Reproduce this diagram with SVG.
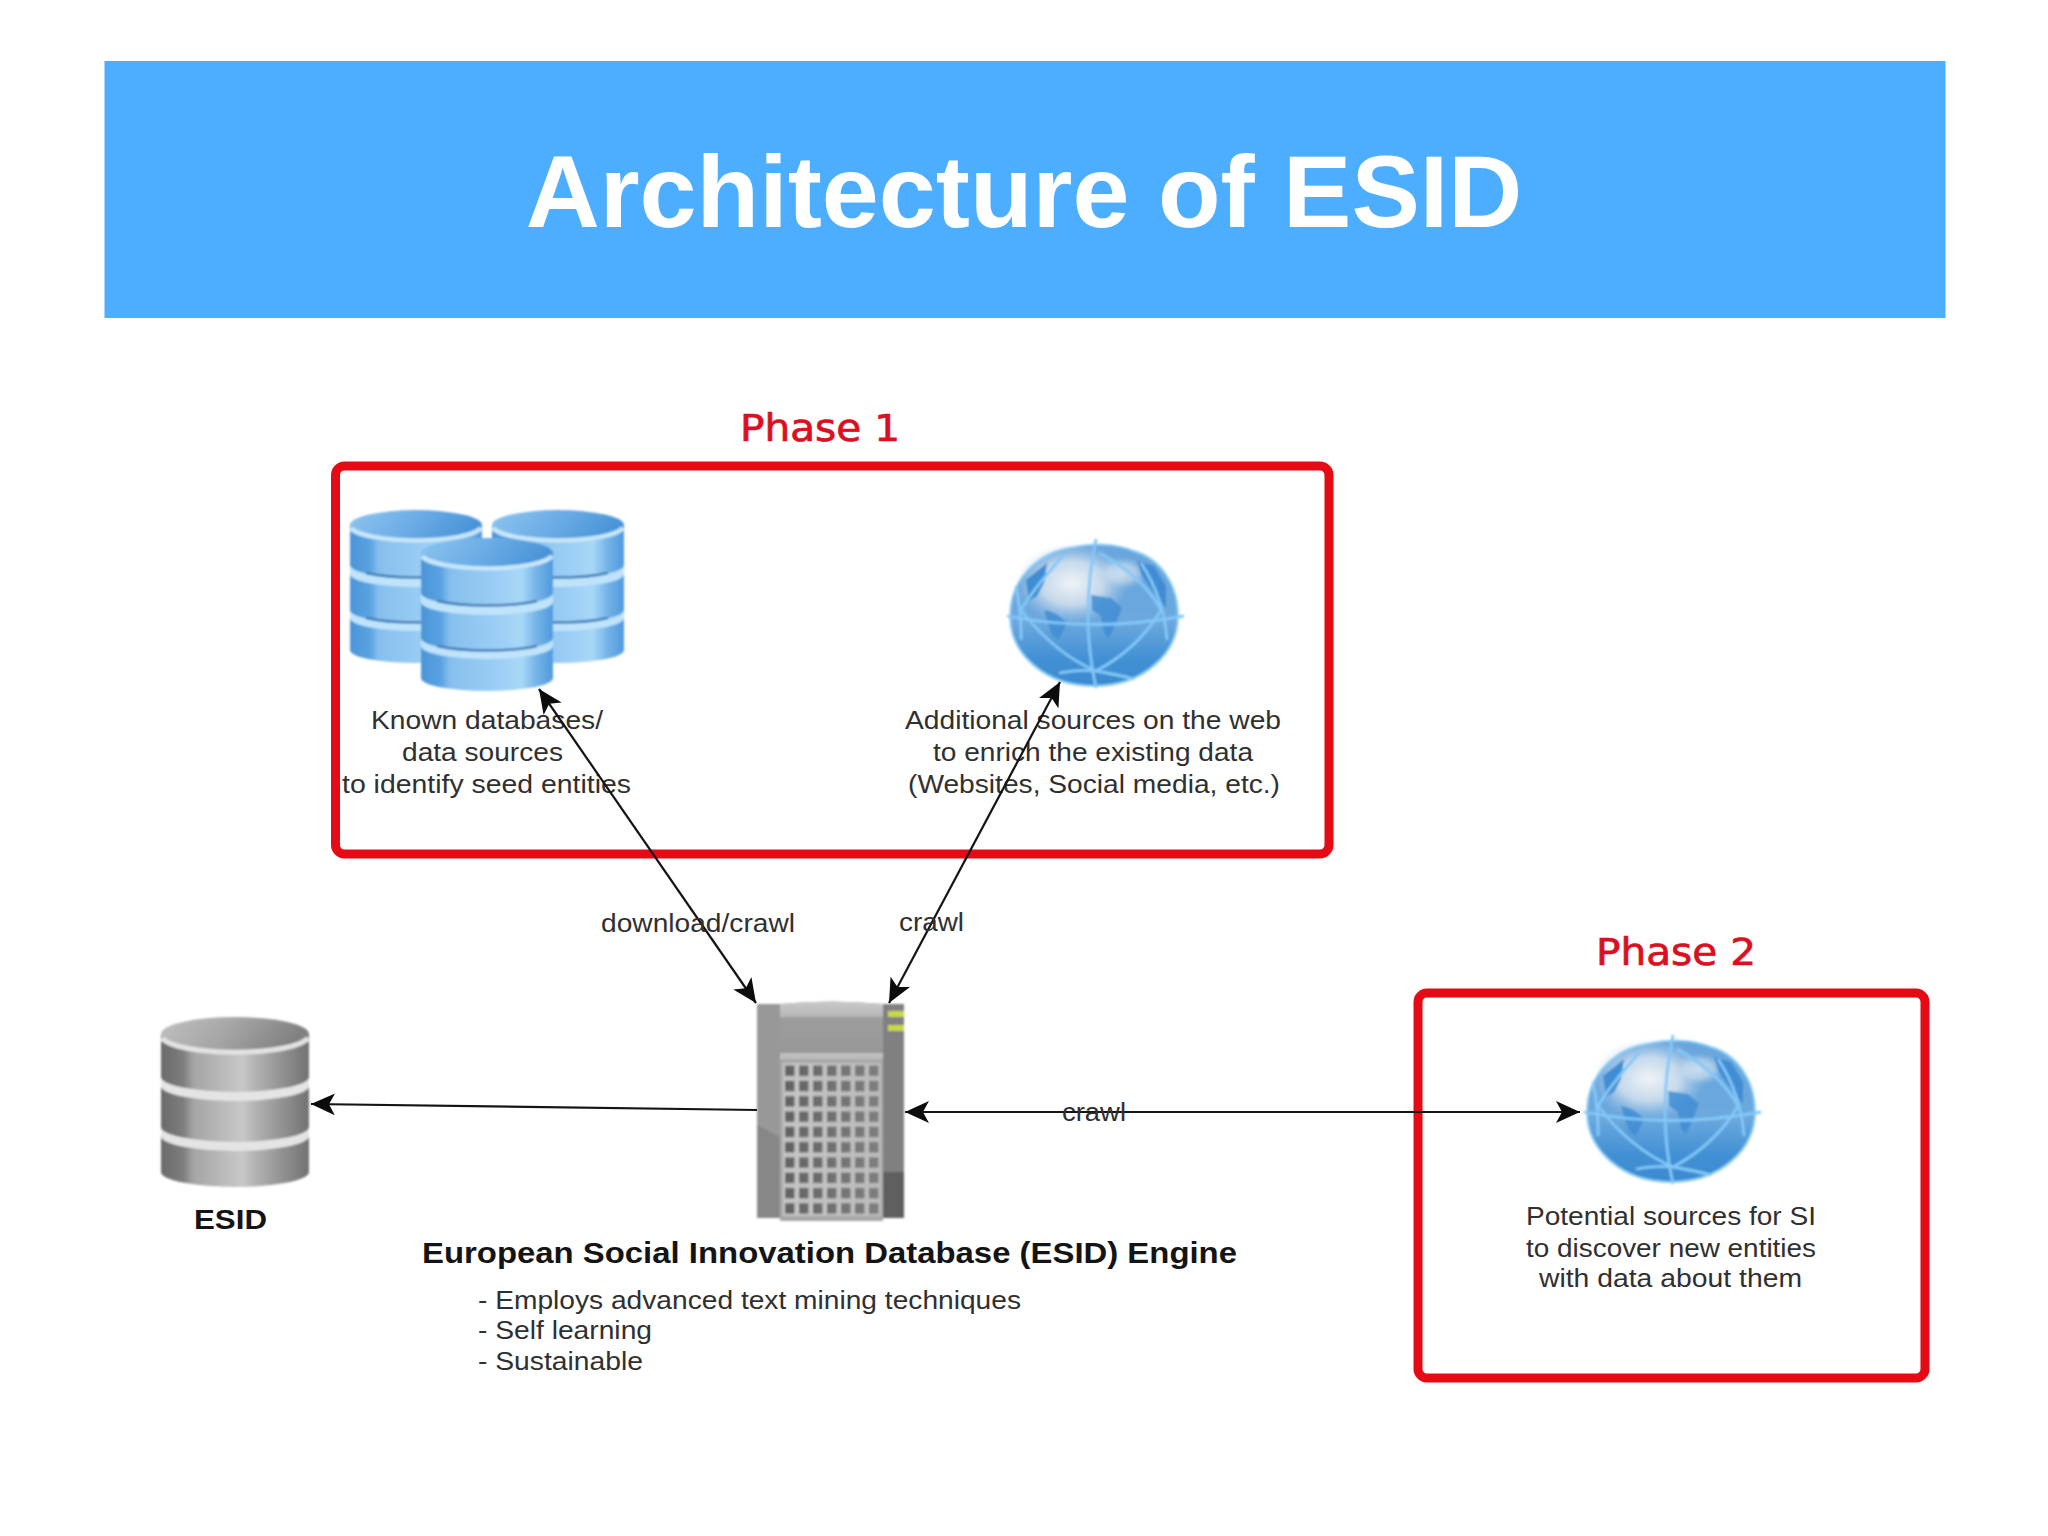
<svg xmlns="http://www.w3.org/2000/svg" width="2048" height="1536" viewBox="0 0 2048 1536">
<style>
text{font-family:"Liberation Sans",Arial,sans-serif;fill:#303030}
.lab{font-size:26px}
.b{font-weight:bold;fill:#141414}
.ph{font-family:"DejaVu Sans",Verdana,sans-serif;font-size:37px;fill:#dc0f22;stroke:#dc0f22;stroke-width:.7}
.box{fill:none;stroke:#e60a14;stroke-width:9}
.con{fill:none;stroke:#141414;stroke-width:2.2}
.grid{fill:none;stroke:#82c8f8;stroke-width:2.8}
.land{fill:#3f8dd3}
.title{font-size:102.500px;font-weight:bold;fill:#fff}
.soft{filter:url(#soft)}
</style>
<defs>
<filter id="soft" x="-5%" y="-5%" width="110%" height="110%"><feGaussianBlur stdDeviation="1"/></filter>
<marker id="ah" viewBox="0 0 24 22" refX="24" refY="11" markerWidth="24" markerHeight="22" markerUnits="userSpaceOnUse" orient="auto-start-reverse"><path d="M24,11 L0,0 L6,11 L0,22Z" fill="#0c0c0c"/></marker>
<linearGradient id="bb" x1="0" x2="1" y1="0" y2="0"><stop offset="0" stop-color="#4a95d8"/><stop offset=".15" stop-color="#5aa2e0"/><stop offset=".22" stop-color="#86bfee"/><stop offset=".62" stop-color="#9ed0f5"/><stop offset=".76" stop-color="#a8d8f8"/><stop offset=".88" stop-color="#73b2e6"/><stop offset="1" stop-color="#4f9ade"/></linearGradient>
<linearGradient id="bt" x1="0" x2="1" y1="0" y2=".2"><stop offset="0" stop-color="#8cc4ee"/><stop offset=".5" stop-color="#6eaee6"/><stop offset="1" stop-color="#4a94d8"/></linearGradient>
<linearGradient id="gb" x1="0" x2="1" y1="0" y2="0"><stop offset="0" stop-color="#6a6a6a"/><stop offset=".15" stop-color="#7e7e7e"/><stop offset=".22" stop-color="#a5a5a5"/><stop offset=".55" stop-color="#c8c8c8"/><stop offset=".62" stop-color="#b6b6b6"/><stop offset=".85" stop-color="#8c8c8c"/><stop offset="1" stop-color="#727272"/></linearGradient>
<linearGradient id="gt" x1="0" x2="1" y1="0" y2=".2"><stop offset="0" stop-color="#c0c0c0"/><stop offset=".5" stop-color="#a6a6a6"/><stop offset="1" stop-color="#808080"/></linearGradient>
<linearGradient id="gl" x1="0" x2="0" y1="0" y2="1"><stop offset="0" stop-color="#6aa6dc"/><stop offset=".55" stop-color="#6ca8de"/><stop offset=".8" stop-color="#4391d4"/><stop offset="1" stop-color="#3a89cf"/></linearGradient>
<radialGradient id="hi"><stop offset="0" stop-color="#f0f3f6"/><stop offset=".55" stop-color="#d5e2ee" stop-opacity=".85"/><stop offset="1" stop-color="#b0cde8" stop-opacity="0"/></radialGradient>
<pattern id="cells" x="783" y="1063" width="14" height="15.300" patternUnits="userSpaceOnUse"><rect width="14" height="15.300" fill="#c6c6c6"/><rect x="2" y="2.500" width="9.500" height="10.500" fill="#626262"/></pattern>
<linearGradient id="fade" x1="0" x2="1" y1="0" y2="0"><stop offset="0" stop-color="#aaa" stop-opacity="0"/><stop offset="1" stop-color="#aaa" stop-opacity=".4"/></linearGradient>
<linearGradient id="srvTop" x1="0" x2="0" y1="0" y2="1"><stop offset="0" stop-color="#c8c8c8"/><stop offset=".28" stop-color="#b8b8b8"/><stop offset=".32" stop-color="#9c9c9c"/><stop offset="1" stop-color="#989898"/></linearGradient>
<g id="dbBlue">
<path d="M0,15 V140 A66,13 0 0 0 132,140 V15Z" fill="url(#bb)"/>
<path d="M0,100 A66,13 0 0 0 132,100 V108 A66,13 0 0 1 0,108Z" fill="#bfe3fa"/>
<path d="M16,108 A66,13 0 0 0 116,108" fill="none" stroke="#3d7cb6" stroke-width="2.500"/>
<path d="M0,55 A66,13 0 0 0 132,55 V64 A66,13 0 0 1 0,64Z" fill="#bfe3fa"/>
<path d="M16,63 A66,13 0 0 0 116,63" fill="none" stroke="#3d7cb6" stroke-width="2.500"/>
<ellipse cx="66" cy="15" rx="66" ry="15" fill="url(#bt)"/>
<path d="M1,18 A66,15 0 0 0 131,18" fill="none" stroke="#c6e6fb" stroke-width="4.500"/>
</g>
<g id="dbGrey">
<path d="M0,17 V155 A74,15 0 0 0 148,155 V17Z" fill="url(#gb)"/>
<path d="M0,110 A74,15 0 0 0 148,110 V119 A74,15 0 0 1 0,119Z" fill="#e4e4e4"/>
<path d="M0,60 A74,15 0 0 0 148,60 V69 A74,15 0 0 1 0,69Z" fill="#e4e4e4"/>
<ellipse cx="74" cy="17" rx="74" ry="17" fill="url(#gt)"/>
<path d="M1,21 A74,17 0 0 0 147,21" fill="none" stroke="#e2e2e2" stroke-width="5"/>
</g>
<g id="globe">
<path id="orb" d="M-84,3 C-84,-35 -55,-60 -25,-65 C0,-70 20,-70 40,-62 C65,-55 84,-30 84,3 C84,40 50,73 0,73 C-50,73 -84,40 -84,3Z" fill="url(#gl)"/>
<ellipse cx="-22" cy="-30" rx="56" ry="40" fill="url(#hi)"/>
<ellipse cx="28" cy="-40" rx="26" ry="16" fill="url(#hi)" opacity=".7"/>
<path class="land" d="M-68,-33 L-47,-50 L-50,-30 L-57,-17 L-65,-12Z"/>
<path class="land" d="M43,-52 L60,-47 L72,-27 L72,-5 L60,-20 L48,-37Z"/>
<path class="land" d="M-50,-3 Q-38,-2 -27,10 L-35,27 L-42,22 L-47,7Z" opacity=".85"/>
<path class="land" d="M-3,-18 L17,-15 L28,-5 L22,10 L15,25 L10,20 L7,3 L-2,-3Z" opacity=".85"/>
<path d="M-84,3 C-84,-35 -55,-60 -25,-65 C0,-70 20,-70 40,-62 C65,-55 84,-30 84,3 C84,40 50,73 0,73 C-50,73 -84,40 -84,3Z" fill="none" stroke="#90d0f8" stroke-width="2"/>
<path class="grid" d="M-87,3 Q-1,20 90,3 M2,-74 Q-14,3 2,75 M-30,-58 Q-60,-25 -73,-3 Q-40,40 2,58 M6,-60 Q50,-35 67,-3 Q45,35 2,58 M-78,-27 Q-72,5 -73,27 M47,-50 Q70,-15 73,27 M-35,60 Q-15,56 2,58 Q25,62 40,66"/>
</g>
</defs>
<rect width="2048" height="1536" fill="#fff"/>
<g id="header"><rect x="104.500" y="61" width="1841" height="257" fill="#4dadff"/><text class="title" x="1024" y="227" text-anchor="middle">Architecture of ESID</text></g>
<g id="phase1"><text class="ph" x="740" y="441" textLength="160" lengthAdjust="spacingAndGlyphs">Phase 1</text><rect class="box" x="335.500" y="466" width="993.500" height="388" rx="9"/></g>
<g id="phase2"><text class="ph" x="1596" y="965" textLength="160" lengthAdjust="spacingAndGlyphs">Phase 2</text><rect class="box" x="1418" y="993" width="507" height="385" rx="9"/></g>
<g id="known-databases">
<g class="soft"><use href="#dbBlue" x="350" y="510"/><use href="#dbBlue" x="492" y="510"/><use href="#dbBlue" x="421" y="538"/></g>
<text class="lab" x="371" y="729" textLength="232" lengthAdjust="spacingAndGlyphs">Known databases/</text>
<text class="lab" x="402" y="761" textLength="161" lengthAdjust="spacingAndGlyphs">data sources</text>
<text class="lab" x="342" y="793" textLength="289" lengthAdjust="spacingAndGlyphs">to identify seed entities</text>
</g>
<g id="web-sources">
<g class="soft"><use href="#globe" x="1094" y="613"/></g>
<text class="lab" x="905" y="729" textLength="376" lengthAdjust="spacingAndGlyphs">Additional sources on the web</text>
<text class="lab" x="933" y="761" textLength="320" lengthAdjust="spacingAndGlyphs">to enrich the existing data</text>
<text class="lab" x="908" y="793" textLength="372" lengthAdjust="spacingAndGlyphs">(Websites, Social media, etc.)</text>
</g>
<g id="potential-sources">
<g class="soft"><use href="#globe" x="1671" y="1109"/></g>
<text class="lab" x="1526" y="1225" textLength="290" lengthAdjust="spacingAndGlyphs">Potential sources for SI</text>
<text class="lab" x="1526" y="1257" textLength="290" lengthAdjust="spacingAndGlyphs">to discover new entities</text>
<text class="lab" x="1539" y="1287" textLength="263" lengthAdjust="spacingAndGlyphs">with data about them</text>
</g>
<g id="esid">
<g class="soft"><use href="#dbGrey" x="161" y="1017"/></g>
<text class="lab b" x="194" y="1229" textLength="73" lengthAdjust="spacingAndGlyphs" style="font-size:28px">ESID</text>
</g>
<g id="engine">
<g class="soft">
<path d="M757,1004 H780 Q830,999 883,1004 H904 V1218 H883 Q830,1224 780,1218 H757Z" fill="#989898"/>
<path d="M757,1125 L780,1137 V1218 H757Z" fill="#878787"/>
<path d="M780,1004 Q830,999 883,1004 V1053 H780Z" fill="url(#srvTop)"/>
<rect x="883" y="1004" width="21" height="168" fill="#808080"/>
<rect x="883" y="1172" width="21" height="46" fill="#5f5f5f"/>
<rect x="780" y="1053" width="103" height="6" fill="#bdbdbd"/>
<rect x="780" y="1059" width="103" height="162" fill="#a8a8a8"/>
<rect x="783" y="1063" width="98" height="153" fill="url(#cells)"/>
<rect x="783" y="1063" width="98" height="153" fill="url(#fade)"/>
<rect x="888" y="1011" width="16" height="6" fill="#c8d84a"/><rect x="888" y="1025" width="16" height="6" fill="#c8d84a"/>
</g>
<text class="lab b" x="422" y="1263" textLength="815" lengthAdjust="spacingAndGlyphs" style="font-size:29px">European Social Innovation Database (ESID) Engine</text>
<text class="lab" x="478" y="1309" textLength="543" lengthAdjust="spacingAndGlyphs">- Employs advanced text mining techniques</text>
<text class="lab" x="478" y="1339" textLength="174" lengthAdjust="spacingAndGlyphs">- Self learning</text>
<text class="lab" x="478" y="1370" textLength="165" lengthAdjust="spacingAndGlyphs">- Sustainable</text>
</g>
<g id="connectors">
<line class="con" x1="539" y1="689" x2="756" y2="1003" marker-start="url(#ah)" marker-end="url(#ah)"/>
<line class="con" x1="1060" y1="682" x2="889" y2="1003" marker-start="url(#ah)" marker-end="url(#ah)"/>
<line class="con" x1="757" y1="1110" x2="311" y2="1104" marker-end="url(#ah)"/>
<line class="con" x1="905" y1="1112" x2="1580" y2="1112" marker-start="url(#ah)" marker-end="url(#ah)"/>
<text class="lab" x="601" y="932" textLength="194" lengthAdjust="spacingAndGlyphs">download/crawl</text>
<text class="lab" x="899" y="931" textLength="65" lengthAdjust="spacingAndGlyphs">crawl</text>
<text class="lab" x="1062" y="1121" textLength="64" lengthAdjust="spacingAndGlyphs">crawl</text>
</g>
</svg>
